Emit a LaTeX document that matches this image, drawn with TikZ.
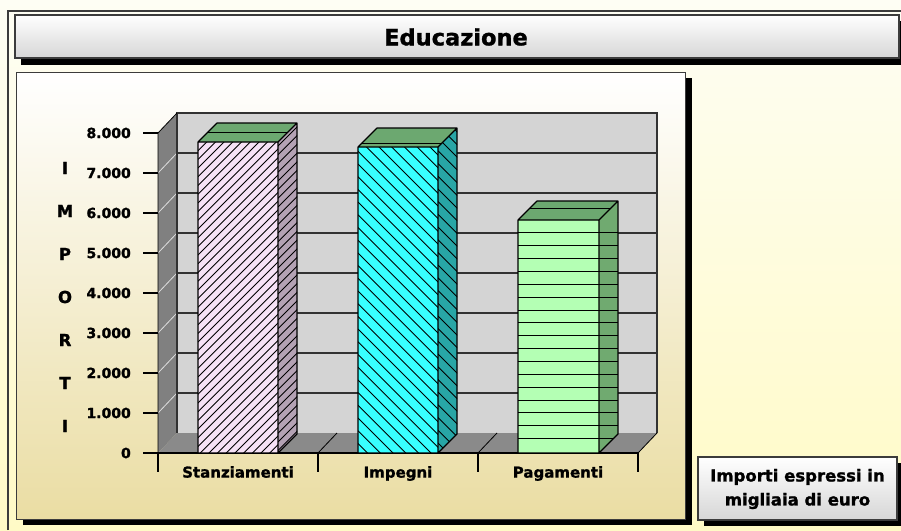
\documentclass[tikz,border=0pt]{standalone}
\usepackage{fontspec}
\setmainfont{DejaVu Sans}[BoldFeatures={FakeBold=1.3}]
\usetikzlibrary{calc}
\definecolor{pagecream}{RGB}{254,254,244}
\definecolor{pageyellow}{RGB}{255,250,198}
\definecolor{paneltan}{RGB}{234,221,163}
\definecolor{framegray}{RGB}{60,60,60}
\definecolor{wallgray}{RGB}{212,212,212}
\definecolor{sidegray}{RGB}{128,128,128}
\definecolor{floorgray}{RGB}{138,138,138}
\definecolor{gridgray}{RGB}{50,50,50}
\definecolor{topgreen}{RGB}{108,168,112}
\definecolor{pinkfront}{RGB}{246,226,246}
\definecolor{pinkside}{RGB}{180,162,180}
\definecolor{cyanfront}{RGB}{56,255,255}
\definecolor{cyanside}{RGB}{40,166,166}
\definecolor{greenfront}{RGB}{180,255,180}
\definecolor{greenside}{RGB}{112,170,112}
\tikzset{%
  % Specifications for style of boxes and texts:
    base/.style = {draw=framegray, line width=1.4pt},
    button/.style = {base, top color=white, bottom color=gray!32},
    panel/.style = {base, line width=1pt, top color=white, bottom color=paneltan},
    shadow/.style = {fill=black},
    gridline/.style = {gridgray, line width=1.6pt},
    wallline/.style = {white!75!sidegray, line width=0.8pt},
    hatch/.style = {black, line width=0.9pt},
    baredge/.style = {black, line width=1.2pt, line join=round},
    titletext/.style = {font=\bfseries\fontsize{22.5}{24}\selectfont},
    ticklabel/.style = {anchor=east, inner sep=0pt, font=\bfseries\fontsize{14}{15}\selectfont},
    axisletter/.style = {inner sep=0pt, font=\bfseries\fontsize{16.5}{17}\selectfont},
    catlabel/.style = {anchor=north, inner sep=0pt, font=\bfseries\fontsize{15}{17}\selectfont},
    notetext/.style = {align=center, font=\bfseries\fontsize{16.5}{24}\selectfont}
}

\begin{document}
\begin{tikzpicture}[x=1pt,y=-1pt]
\useasboundingbox (0,0) rectangle (901,530);
\def\dx{19}
\def\dy{20}

% page and frame
\shade[top color=pagecream, bottom color=pageyellow] (0,0) rectangle (901,530);
\draw[framegray, line width=1.5pt] (8,530) -- (8,11) -- (901,11);

% title bar
\fill[shadow] (21,21) rectangle (906,65);
\path[button] (15,15) rectangle (899,58);
\node[titletext] (title) at (456,37) {Educazione};

% chart panel
\fill[shadow] (23,78) rectangle (692,525);
\path[panel] (16,72) rectangle (685,519);

% left wall
\fill[sidegray] (158,453) -- (158,133) -- (177,113) -- (177,433) -- cycle;
\foreach \k in {1,...,7}
  \draw[wallline] (158,{453-40*\k}) -- ++(\dx,-\dy);

% back wall
\fill[wallgray] (177,113) rectangle (657,433);
\foreach \k in {1,...,7}
  \draw[gridline] (177,{433-40*\k}) -- (657,{433-40*\k});
\draw[gridline, line width=1.8pt] (177,433) -- (177,113) -- (657,113) -- (657,433);

% floor
\fill[floorgray] (158,453) -- (638,453) -- (657,433) -- (177,433) -- cycle;
\draw[black, line width=0.8pt] (318,453) -- ++(\dx,-\dy);
\draw[black, line width=0.8pt] (478,453) -- ++(\dx,-\dy);
\draw[black, line width=0.8pt] (638,453) -- ++(\dx,-\dy);
\draw[black, line width=0.8pt] (158,453) -- (158,133) -- ++(\dx,-\dy);

% axes
\draw[black, line width=1.5pt] (143,453) -- (638,453);
\foreach \k in {1,...,8}
  \draw[black, line width=1.2pt] (143,{453-40*\k}) -- (158,{453-40*\k});
\foreach \x in {158,318,478,638}
  \draw[black, line width=1.2pt] (\x,453) -- (\x,472);

% tick labels
\node[ticklabel] (t0) at (131,453) {0};
\node[ticklabel] (t1) at (131,413) {1.000};
\node[ticklabel] (t2) at (131,373) {2.000};
\node[ticklabel] (t3) at (131,333) {3.000};
\node[ticklabel] (t4) at (131,293) {4.000};
\node[ticklabel] (t5) at (131,253) {5.000};
\node[ticklabel] (t6) at (131,213) {6.000};
\node[ticklabel] (t7) at (131,173) {7.000};
\node[ticklabel] (t8) at (131,133) {8.000};

% axis title, one letter per row
\node[axisletter] (l1) at (65,168) {I};
\node[axisletter] (l2) at (65,211) {M};
\node[axisletter] (l3) at (65,254) {P};
\node[axisletter] (l4) at (65,297) {O};
\node[axisletter] (l5) at (65,340) {R};
\node[axisletter] (l6) at (65,383) {T};
\node[axisletter] (l7) at (65,426) {I};

% bar Stanziamenti
\fill[pinkfront] (198,142) rectangle (278,453);
\begin{scope}
\clip (198,142) rectangle (278,453);
\foreach \c in {142,150.7,...,545} \draw[hatch] (198,\c) -- ++(110,-110);
\end{scope}
\fill[pinkside] (278,453) -- (278,142) -- (297,123) -- (297,434) -- cycle;
\begin{scope}
\clip (278,453) -- (278,142) -- (297,123) -- (297,434) -- cycle;
\foreach \c in {120,128.7,...,470} \draw[hatch] (278,\c) -- ++(30,-30);
\end{scope}
\fill[topgreen] (198,142) -- (217,123) -- (297,123) -- (278,142) -- cycle;
\draw[hatch] (208,132) -- (288,132);
\draw[baredge] (198,453) -- (198,142) -- (217,123) -- (297,123) -- (297,434) -- (278,453) -- cycle
  (198,142) -- (278,142) -- (297,123) (278,142) -- (278,453);

% bar Impegni
\fill[cyanfront] (358,147) rectangle (438,453);
\begin{scope}
\clip (358,147) rectangle (438,453);
\foreach \c in {37,49.7,...,460} \draw[hatch] (358,\c) -- ++(110,110);
\end{scope}
\fill[cyanside] (438,453) -- (438,147) -- (457,128) -- (457,434) -- cycle;
\begin{scope}
\clip (438,453) -- (438,147) -- (457,128) -- (457,434) -- cycle;
\foreach \c in {100,112.7,...,460} \draw[hatch] (438,\c) -- ++(30,30);
\end{scope}
\fill[topgreen] (358,147) -- (377,128) -- (457,128) -- (438,147) -- cycle;
\draw[hatch] (362,143) -- (442,143);
\draw[baredge] (358,453) -- (358,147) -- (377,128) -- (457,128) -- (457,434) -- (438,453) -- cycle
  (358,147) -- (438,147) -- (457,128) (438,147) -- (438,453);

% bar Pagamenti
\fill[greenfront] (518,220) rectangle (599,453);
\fill[greenside] (599,453) -- (599,220) -- (618,201) -- (618,434) -- cycle;
\begin{scope}
\clip (518,453) -- (518,220) -- (618,201) -- (618,434) -- (599,453) -- cycle;
\foreach \y in {438.5,425.65,...,230} \draw[hatch] (518,\y) -- (618,\y);
\end{scope}
\fill[topgreen] (518,220) -- (537,201) -- (618,201) -- (599,220) -- cycle;
\draw[hatch] (530,208) -- (610,208);
\draw[baredge] (518,453) -- (518,220) -- (537,201) -- (618,201) -- (618,434) -- (599,453) -- cycle
  (518,220) -- (599,220) -- (618,201) (599,220) -- (599,453);

% category labels
\node[catlabel] (c1) at (238,466) {Stanziamenti};
\node[catlabel] (c2) at (398,466) {Impegni};
\node[catlabel] (c3) at (558,466) {Pagamenti};

% note box
\fill[shadow] (704,463) rectangle (904,526);
\path[button] (698,457) rectangle (897,520);
\node[notetext] (note) at (797.5,489) {Importi espressi in\\migliaia di euro};

\end{tikzpicture}
\end{document}
